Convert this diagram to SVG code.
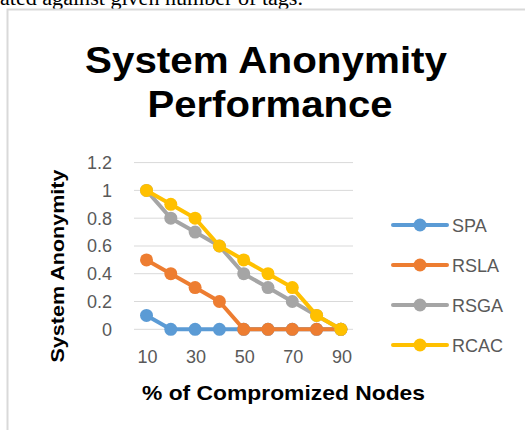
<svg xmlns="http://www.w3.org/2000/svg" width="525" height="430" viewBox="0 0 525 430">
  <style>
    .caption { font-family: "Liberation Serif", serif; font-size: 20px; fill: #000; }
    .title { font-family: "Liberation Sans", Arial, sans-serif; font-weight: bold; font-size: 37px; fill: #000; text-anchor: middle; }
    .axis-title { font-family: "Liberation Sans", Arial, sans-serif; font-weight: bold; font-size: 18px; fill: #000; text-anchor: middle; }
    .tick { font-family: "Liberation Sans", Arial, sans-serif; font-size: 18px; fill: #595959; }
    .legend { font-family: "Liberation Sans", Arial, sans-serif; font-size: 18px; fill: #595959; }
    .grid { stroke: #d9d9d9; stroke-width: 1; }
    .series { fill: none; stroke-width: 4; stroke-linejoin: round; stroke-linecap: round; }
    .spa { stroke: #5b9bd5; fill: #5b9bd5; }
    .rsla { stroke: #ed7d31; fill: #ed7d31; }
    .rsga { stroke: #a5a5a5; fill: #a5a5a5; }
    .rcac { stroke: #ffc000; fill: #ffc000; }
    .series.spa, .series.rsla, .series.rsga, .series.rcac { fill: none; }
    .pt { stroke: none; }
  </style>
  <defs>
    <circle id="dot" r="6.5" />
  </defs>

  <rect width="525" height="430" fill="#ffffff" />

  <!-- text line running above the figure -->
  <text class="caption" x="0" y="4.5" textLength="303" lengthAdjust="spacingAndGlyphs">ated against given number of tags.</text>

  <!-- chart frame -->
  <path d="M7.5 430 V9.5 H525" fill="none" stroke="#d9d9d9" stroke-width="2" />

  <!-- chart title -->
  <text class="title" x="266" y="73" textLength="362" lengthAdjust="spacingAndGlyphs">System Anonymity</text>
  <text class="title" x="270" y="117" textLength="245" lengthAdjust="spacingAndGlyphs">Performance</text>

  <!-- gridlines -->
  <g id="grid">
    <line class="grid" x1="134" x2="353" y1="162.6" y2="162.6" />
    <line class="grid" x1="134" x2="353" y1="190.4" y2="190.4" />
    <line class="grid" x1="134" x2="353" y1="218.2" y2="218.2" />
    <line class="grid" x1="134" x2="353" y1="246" y2="246" />
    <line class="grid" x1="134" x2="353" y1="273.7" y2="273.7" />
    <line class="grid" x1="134" x2="353" y1="301.5" y2="301.5" />
    <line class="grid" x1="134" x2="353" y1="329.3" y2="329.3" />
  </g>

  <!-- value axis -->
  <g id="y-axis" text-anchor="end">
    <text class="tick" x="112" y="169">1.2</text>
    <text class="tick" x="112" y="196.8">1</text>
    <text class="tick" x="112" y="224.6">0.8</text>
    <text class="tick" x="112" y="252.4">0.6</text>
    <text class="tick" x="112" y="280.1">0.4</text>
    <text class="tick" x="112" y="307.9">0.2</text>
    <text class="tick" x="112" y="335.7">0</text>
    <text class="axis-title" transform="translate(64 266) rotate(-90)" textLength="193" lengthAdjust="spacingAndGlyphs">System Anonymity</text>
  </g>

  <!-- category axis -->
  <g id="x-axis" text-anchor="middle">
    <text class="tick" x="147.5" y="363">10</text>
    <text class="tick" x="196.1" y="363">30</text>
    <text class="tick" x="244.7" y="363">50</text>
    <text class="tick" x="293.3" y="363">70</text>
    <text class="tick" x="341.9" y="363">90</text>
    <text class="axis-title" x="283.5" y="400" style="font-size:21px" textLength="283" lengthAdjust="spacingAndGlyphs">% of Compromized Nodes</text>
  </g>

  <!-- data series -->
  <g id="connectors">
    <g id="series-spa">
      <polyline class="series spa" points="146.5,315.4 170.8,329.3 195.1,329.3 219.4,329.3 243.7,329.3 268,329.3 292.3,329.3 316.6,329.3 340.9,329.3" />
      <g class="pt spa">
        <use href="#dot" x="146.5" y="315.4" /><use href="#dot" x="170.8" y="329.3" /><use href="#dot" x="195.1" y="329.3" />
        <use href="#dot" x="219.4" y="329.3" /><use href="#dot" x="243.7" y="329.3" /><use href="#dot" x="268" y="329.3" />
        <use href="#dot" x="292.3" y="329.3" /><use href="#dot" x="316.6" y="329.3" /><use href="#dot" x="340.9" y="329.3" />
      </g>
    </g>
    <g id="series-rsla">
      <polyline class="series rsla" points="146.5,259.9 170.8,273.7 195.1,287.6 219.4,301.5 243.7,329.3 268,329.3 292.3,329.3 316.6,329.3 340.9,329.3" />
      <g class="pt rsla">
        <use href="#dot" x="146.5" y="259.9" /><use href="#dot" x="170.8" y="273.7" /><use href="#dot" x="195.1" y="287.6" />
        <use href="#dot" x="219.4" y="301.5" /><use href="#dot" x="243.7" y="329.3" /><use href="#dot" x="268" y="329.3" />
        <use href="#dot" x="292.3" y="329.3" /><use href="#dot" x="316.6" y="329.3" /><use href="#dot" x="340.9" y="329.3" />
      </g>
    </g>
    <g id="series-rsga">
      <polyline class="series rsga" points="146.5,190.4 170.8,218.2 195.1,232.1 219.4,246 243.7,273.7 268,287.6 292.3,301.5 316.6,315.4 340.9,329.3" />
      <g class="pt rsga">
        <use href="#dot" x="146.5" y="190.4" /><use href="#dot" x="170.8" y="218.2" /><use href="#dot" x="195.1" y="232.1" />
        <use href="#dot" x="219.4" y="246" /><use href="#dot" x="243.7" y="273.7" /><use href="#dot" x="268" y="287.6" />
        <use href="#dot" x="292.3" y="301.5" /><use href="#dot" x="316.6" y="315.4" /><use href="#dot" x="340.9" y="329.3" />
      </g>
    </g>
    <g id="series-rcac">
      <polyline class="series rcac" points="146.5,190.4 170.8,204.3 195.1,218.2 219.4,246 243.7,259.9 268,273.7 292.3,287.6 316.6,315.4 340.9,329.3" />
      <g class="pt rcac">
        <use href="#dot" x="146.5" y="190.4" /><use href="#dot" x="170.8" y="204.3" /><use href="#dot" x="195.1" y="218.2" />
        <use href="#dot" x="219.4" y="246" /><use href="#dot" x="243.7" y="259.9" /><use href="#dot" x="268" y="273.7" />
        <use href="#dot" x="292.3" y="287.6" /><use href="#dot" x="316.6" y="315.4" /><use href="#dot" x="340.9" y="329.3" />
      </g>
    </g>
  </g>

  <!-- legend -->
  <g id="legend">
    <g id="legend-spa">
      <line class="series spa" x1="393" x2="447" y1="225" y2="225" stroke-linecap="butt" />
      <use class="pt spa" href="#dot" x="420" y="225" />
      <text class="legend" x="452" y="231.5">SPA</text>
    </g>
    <g id="legend-rsla">
      <line class="series rsla" x1="393" x2="447" y1="265" y2="265" stroke-linecap="butt" />
      <use class="pt rsla" href="#dot" x="420" y="265" />
      <text class="legend" x="452" y="271.5">RSLA</text>
    </g>
    <g id="legend-rsga">
      <line class="series rsga" x1="393" x2="447" y1="305" y2="305" stroke-linecap="butt" />
      <use class="pt rsga" href="#dot" x="420" y="305" />
      <text class="legend" x="452" y="311.5">RSGA</text>
    </g>
    <g id="legend-rcac">
      <line class="series rcac" x1="393" x2="447" y1="345" y2="345" stroke-linecap="butt" />
      <use class="pt rcac" href="#dot" x="420" y="345" />
      <text class="legend" x="452" y="351.5">RCAC</text>
    </g>
  </g>
</svg>
